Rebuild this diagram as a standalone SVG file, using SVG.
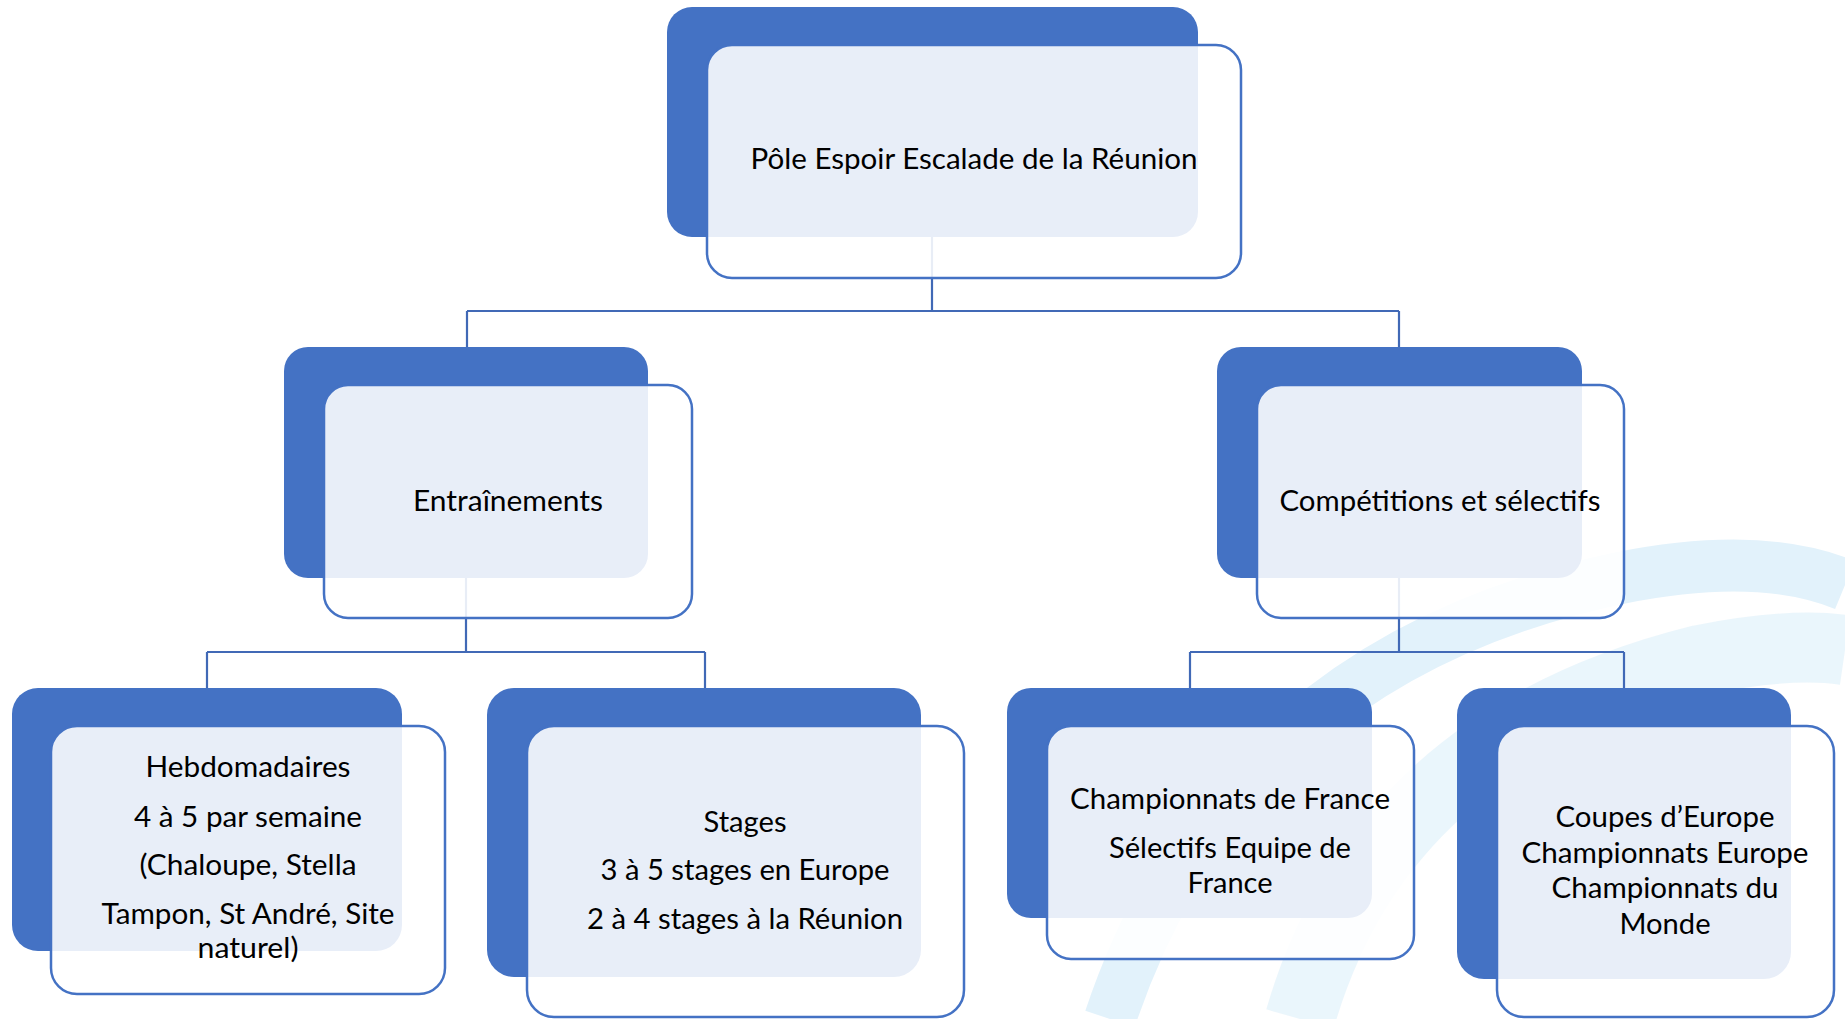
<svg xmlns="http://www.w3.org/2000/svg" width="1845" height="1019" viewBox="0 0 1845 1019">
<style>
.bg{fill:#FFFFFF}
.wm{fill:none;stroke:#D9EEFA;stroke-linecap:butt}
.back{fill:#4472C4}
.front{fill:#FFFFFF;fill-opacity:0.88;stroke:#4472C4;stroke-width:2.5}
.conn{fill:none;stroke:#4169B6;stroke-width:2.2}
.t{font-family:Lato,"Open Sans","Liberation Sans",sans-serif;font-size:29px;fill:#000000;text-anchor:middle}
</style>
<rect class="bg" x="0" y="0" width="1845" height="1019"/>
<g id="watermark" opacity="0.75">
  <path class="wm" d="M1110 1019 Q1230 660 1620 578 Q1760 550 1845 585" stroke-width="52"/>
  <path class="wm" d="M1300 1019 Q1380 740 1700 660 Q1790 642 1845 650" stroke-width="70" opacity="0.7"/>
</g>
<g id="connectors">
  <path class="conn" d="M932 237 V311 M467 311 H1399 M467 311 V347 M1399 311 V347"/>
  <path class="conn" d="M466 578 V652 M207 652 H705 M207 652 V688 M705 652 V688"/>
  <path class="conn" d="M1399 578 V652 M1190 652 H1624 M1190 652 V688 M1624 652 V688"/>
</g>
<g id="node-pole">
  <rect class="back" x="667" y="7" width="531" height="230" rx="25"/>
  <rect class="front" x="707" y="45" width="534" height="233" rx="25"/>
  <text class="t" x="974" y="169" textLength="447" lengthAdjust="spacingAndGlyphs">Pôle Espoir Escalade de la Réunion</text>
</g>
<g id="node-entrainements">
  <rect class="back" x="284" y="347" width="364" height="231" rx="24"/>
  <rect class="front" x="324" y="385" width="368" height="233" rx="24"/>
  <text class="t" x="508" y="511" textLength="190" lengthAdjust="spacingAndGlyphs">Entraînements</text>
</g>
<g id="node-competitions">
  <rect class="back" x="1217" y="347" width="365" height="231" rx="24"/>
  <rect class="front" x="1257" y="385" width="367" height="233" rx="24"/>
  <text class="t" x="1440" y="511" textLength="321" lengthAdjust="spacingAndGlyphs">Compétitions et sélectifs</text>
</g>
<g id="node-hebdomadaires">
  <rect class="back" x="12" y="688" width="390" height="263" rx="26"/>
  <rect class="front" x="51" y="726" width="394" height="268" rx="26"/>
  <text class="t" x="248" y="777" textLength="205" lengthAdjust="spacingAndGlyphs">Hebdomadaires</text>
  <text class="t" x="248" y="827" textLength="228" lengthAdjust="spacingAndGlyphs">4 à 5 par semaine</text>
  <text class="t" x="248" y="875" textLength="217" lengthAdjust="spacingAndGlyphs">(Chaloupe, Stella</text>
  <text class="t" x="248" y="924" textLength="293" lengthAdjust="spacingAndGlyphs">Tampon, St André, Site</text>
  <text class="t" x="248" y="958" textLength="101" lengthAdjust="spacingAndGlyphs">naturel)</text>
</g>
<g id="node-stages">
  <rect class="back" x="487" y="688" width="434" height="289" rx="27"/>
  <rect class="front" x="527" y="726" width="437" height="291" rx="27"/>
  <text class="t" x="745" y="832" textLength="83" lengthAdjust="spacingAndGlyphs">Stages</text>
  <text class="t" x="745" y="880" textLength="289" lengthAdjust="spacingAndGlyphs">3 à 5 stages en Europe</text>
  <text class="t" x="745" y="929" textLength="316" lengthAdjust="spacingAndGlyphs">2 à 4 stages à la Réunion</text>
</g>
<g id="node-championnats-france">
  <rect class="back" x="1007" y="688" width="365" height="230" rx="24"/>
  <rect class="front" x="1047" y="726" width="367" height="233" rx="24"/>
  <text class="t" x="1230" y="809" textLength="320" lengthAdjust="spacingAndGlyphs">Championnats de France</text>
  <text class="t" x="1230" y="858" textLength="242" lengthAdjust="spacingAndGlyphs">Sélectifs Equipe de</text>
  <text class="t" x="1230" y="893" textLength="85" lengthAdjust="spacingAndGlyphs">France</text>
</g>
<g id="node-coupes">
  <rect class="back" x="1457" y="688" width="334" height="291" rx="27"/>
  <rect class="front" x="1497" y="726" width="337" height="291" rx="27"/>
  <text class="t" x="1665" y="827" textLength="219" lengthAdjust="spacingAndGlyphs">Coupes d’Europe</text>
  <text class="t" x="1665" y="863" textLength="287" lengthAdjust="spacingAndGlyphs">Championnats Europe</text>
  <text class="t" x="1665" y="898" textLength="227" lengthAdjust="spacingAndGlyphs">Championnats du</text>
  <text class="t" x="1665" y="934" textLength="91" lengthAdjust="spacingAndGlyphs">Monde</text>
</g>
</svg>
